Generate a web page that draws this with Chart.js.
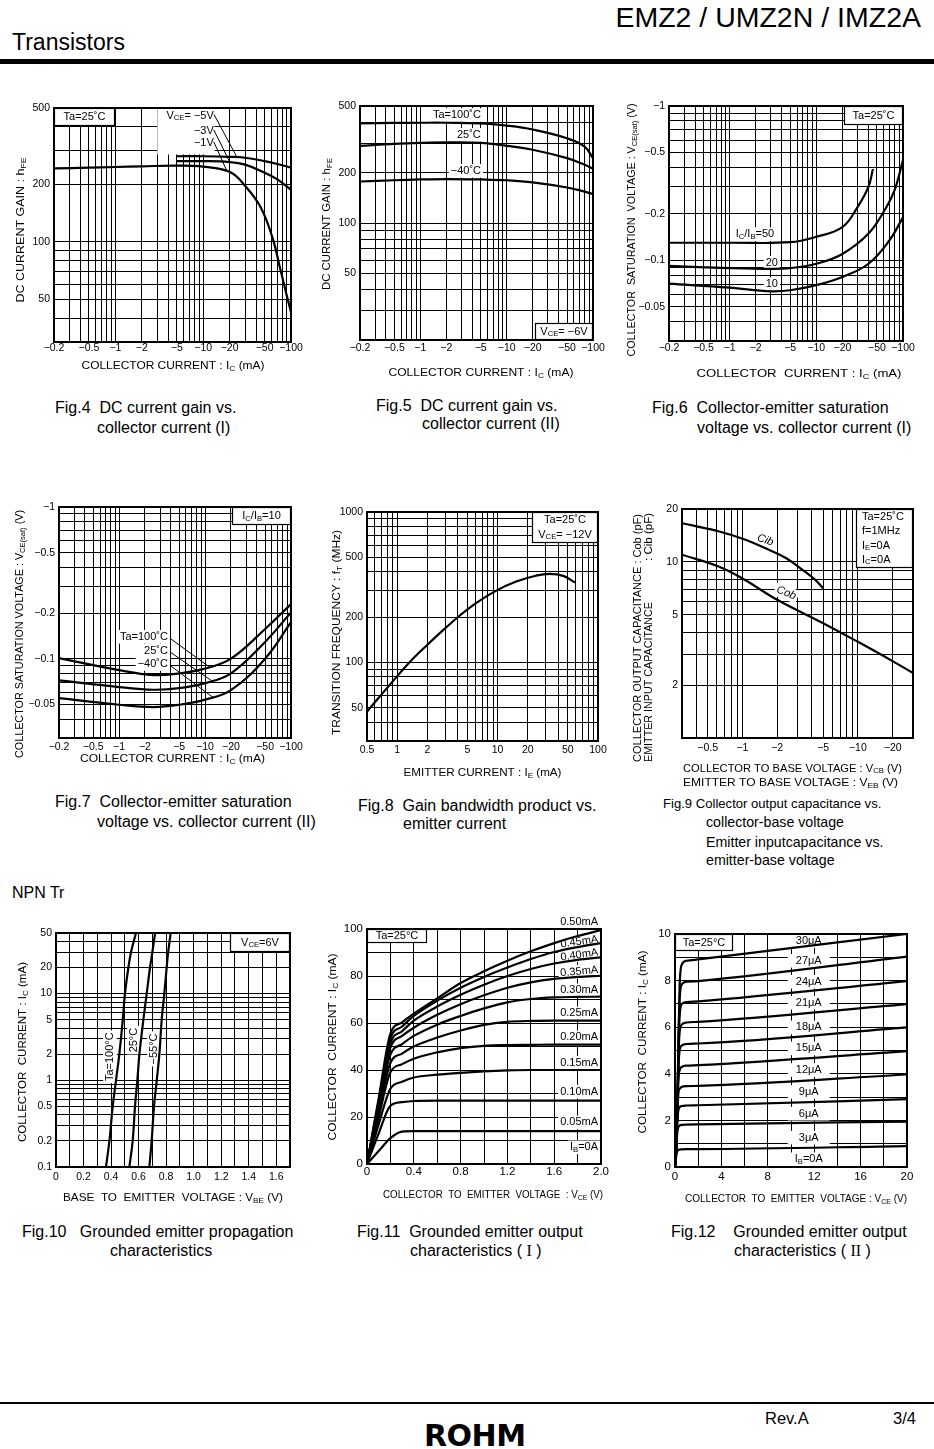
<!DOCTYPE html>
<html>
<head>
<meta charset="utf-8">
<title>EMZ2 / UMZ2N / IMZ2A</title>
<script src="https://cdn.jsdelivr.net/npm/chart.js@4.4.1/dist/chart.umd.min.js"></script>
<style>
  html, body { margin: 0; padding: 0; overflow: hidden; background: #fff; }
  #page { position: relative; width: 934px; height: 1449px; background: #fff; font-family: "Liberation Sans", Arial, Helvetica, sans-serif; color: #000; }
  .t { position: absolute; white-space: pre; line-height: 16px; }
  .cap { position: absolute; white-space: pre; font-size: 16px; line-height: 16px; }
  .c9 { font-size: 14.2px; }
  .rn { font-family: "Liberation Serif", "DejaVu Serif", serif; }
</style>
</head>
<body>
<div id="page">
  <div class="t" style="right:13px; top:2px; font-size:28.5px; line-height:30px;">EMZ2 / UMZ2N / IMZ2A</div>
  <div class="t" style="left:12px; top:30px; font-size:23px; line-height:24px;">Transistors</div>
  <div style="position:absolute; left:0; top:59px; width:934px; height:5px; background:#000;"></div>

  <div class="cap" style="left:55px; top:400px;">Fig.4  DC current gain vs.</div>
  <div class="cap" style="left:97px; top:420px;">collector current (I)</div>
  <div class="cap" style="left:376px; top:398px;">Fig.5  DC current gain vs.</div>
  <div class="cap" style="left:422px; top:416px;">collector current (II)</div>
  <div class="cap" style="left:652px; top:400px;">Fig.6  Collector-emitter saturation</div>
  <div class="cap" style="left:697px; top:420px;">voltage vs. collector current (I)</div>

  <div class="cap" style="left:55px; top:794px;">Fig.7  Collector-emitter saturation</div>
  <div class="cap" style="left:97px; top:814px;">voltage vs. collector current (II)</div>
  <div class="cap" style="left:358px; top:798px;">Fig.8  Gain bandwidth product vs.</div>
  <div class="cap" style="left:403px; top:816px;">emitter current</div>
  <div class="cap c9" style="left:663px; top:796px; font-size:13.1px;">Fig.9 Collector output capacitance vs.</div>
  <div class="cap c9" style="left:706px; top:814px;">collector-base voltage</div>
  <div class="cap c9" style="left:706px; top:834px;">Emitter inputcapacitance vs.</div>
  <div class="cap c9" style="left:706px; top:852px;">emitter-base voltage</div>

  <div class="cap" style="left:12px; top:885px;">NPN Tr</div>

  <div class="cap" style="left:22px; top:1224px;">Fig.10   Grounded emitter propagation</div>
  <div class="cap" style="left:110px; top:1243px;">characteristics</div>
  <div class="cap" style="left:357px; top:1224px;">Fig.11  Grounded emitter output</div>
  <div class="cap" style="left:410px; top:1243px;">characteristics ( <span class="rn">I</span> )</div>
  <div class="cap" style="left:671px; top:1224px;">Fig.12    Grounded emitter output</div>
  <div class="cap" style="left:734px; top:1243px;">characteristics ( <span class="rn">II</span> )</div>

  <div style="position:absolute; left:0; top:1402px; width:934px; height:2px; background:#000;"></div>
  <div class="t" style="left:765px; top:1410px; font-size:16.5px;">Rev.A</div>
  <div class="t" style="left:893px; top:1410px; font-size:16.5px;">3/4</div>
  <div class="t" style="left:424px; top:1420px; font-size:30px; line-height:32px; font-weight:bold; font-family:'DejaVu Sans', sans-serif; letter-spacing:-0.5px;">ROHM</div>
</div>

<script>
// ---- Fig.4 : DC current gain vs. collector current (I) ----
const fig4IcLow  = [0.2, 0.5, 1, 2, 5, 10, 20, 30, 45, 62, 75, 89, 100];
const fig4Hfe1V  = [242, 244, 246, 248, 250, 247, 232, 196, 152, 104, 73, 53, 43];
const fig4IcHigh = [5, 10, 20, 30, 50, 70, 100];
const fig4Hfe3V  = [264, 264, 261, 253, 230, 212, 187];
const fig4Hfe5V  = [280, 280, 278, 275, 264, 255, 244];

// ---- Fig.5 : DC current gain vs. collector current (II) ----
const fig5Ic      = [0.2, 0.5, 1, 2, 5, 10, 20, 50, 80, 100];
const fig5Hfe100  = [394, 396, 397, 397, 394, 382, 362, 321, 286, 244];
const fig5Hfe25   = [289, 297, 301, 303, 301, 289, 274, 244, 223, 211];
const fig5HfeM40  = [177, 180, 182, 183, 182, 180, 175, 163, 154, 149];

// ---- Fig.6 : VCE(sat) vs. Ic (I) ----
const fig6Ic50 = [0.2, 1, 5, 10, 20, 30, 40, 45];
const fig6V50  = [0.13, 0.13, 0.131, 0.142, 0.164, 0.222, 0.30, 0.39];
const fig6Ic20 = [0.2, 1, 3, 5, 10, 20, 40, 64, 80, 100];
const fig6V20  = [0.092, 0.089, 0.088, 0.089, 0.095, 0.11, 0.149, 0.22, 0.285, 0.446];
const fig6Ic10 = [0.2, 1, 3, 5, 10, 20, 40, 70, 100];
const fig6V10  = [0.0706, 0.0665, 0.063, 0.064, 0.069, 0.078, 0.095, 0.135, 0.19];

// ---- Fig.7 : VCE(sat) vs. Ic (II) ----
const fig7Ic    = [0.2, 1, 2.5, 5, 10, 20, 50, 100];
const fig7V100  = [0.101, 0.084, 0.078, 0.080, 0.086, 0.100, 0.157, 0.229];
const fig7V25   = [0.072, 0.065, 0.0624, 0.064, 0.069, 0.080, 0.129, 0.202];
const fig7VM40  = [0.055, 0.0497, 0.048, 0.0497, 0.0537, 0.062, 0.100, 0.174];

// ---- Fig.8 : fT vs. IE ----
const fig8Ie = [0.5, 1, 1.44, 2, 2.9, 4.2, 6.1, 9.7, 15.3, 24, 33, 45, 59];
const fig8Ft = [47, 81, 106, 131, 165, 205, 248, 300, 345, 377, 388, 376, 340];

// ---- Fig.9 : Cob / Cib ----
const fig9VCib = [0.3, 0.63, 1.02, 1.71, 2.4, 3.34, 4.2, 5.0];
const fig9Cib  = [16.6, 14.9, 13.5, 11.7, 10.5, 9.0, 8.0, 7.1];
const fig9VCob = [0.3, 0.63, 1.02, 2.0, 5.0, 9.9, 19.1, 30];
const fig9Cob  = [11.0, 9.4, 8.0, 6.1, 4.49, 3.53, 2.78, 2.34];

// ---- Fig.10 : Ic vs. VBE ----
const fig10Ic    = [0.1, 0.2, 0.5, 1, 2, 5, 10, 20, 30, 50];
const fig10V100  = [0.363, 0.388, 0.412, 0.436, 0.46, 0.485, 0.501, 0.526, 0.545, 0.581];
const fig10V25   = [0.533, 0.557, 0.574, 0.591, 0.606, 0.635, 0.659, 0.683, 0.70, 0.72];
const fig10VM55  = [0.678, 0.695, 0.712, 0.732, 0.751, 0.768, 0.787, 0.804, 0.815, 0.833];

// ---- Fig.11 : Ic vs. VCE (I) ----
const fig11Vce = [0, 0.1, 0.2, 0.3, 0.4, 0.6, 0.8, 1.0, 1.2, 1.4, 1.6, 1.8, 2.0];
const fig11Ib  = ['0.05mA', '0.10mA', '0.15mA', '0.20mA', '0.25mA', '0.30mA', '0.35mA', '0.40mA', '0.45mA', '0.50mA'];
const fig11Ic = [
  [0, 5.5, 11, 13.8, 14, 14, 14, 14, 14, 14, 14, 14, 14],
  [0, 13, 24.8, 26.3, 26.8, 27, 27, 27, 27, 27, 27, 27, 27],
  [0, 17, 32, 35, 36.8, 38, 38.8, 39.4, 39.8, 40, 40, 40, 40],
  [0, 20, 39, 42.5, 44.8, 47.5, 49.3, 50.3, 50.6, 50.7, 50.8, 50.8, 50.8],
  [0, 22, 43, 47, 50, 53.8, 56.8, 59.2, 60.5, 60.9, 61, 61, 61],
  [0, 24, 46.5, 51, 54.5, 59.3, 63, 66.2, 68.8, 70.2, 70.9, 71.1, 71.2],
  [0, 25, 49.5, 54.5, 58, 63.5, 68, 71.8, 75, 77.3, 78.8, 79.6, 80.1],
  [0, 26, 51.5, 56.5, 61, 67, 72, 76.3, 80, 83, 85.3, 86.9, 87.9],
  [0, 27, 53.5, 58.5, 63, 69.5, 75, 79.6, 83.6, 87.2, 90.2, 92.3, 94],
  [0, 28, 55.5, 60.3, 64, 70.5, 77, 82, 86.5, 90.5, 94, 97, 99.5]
];

// ---- Fig.12 : Ic vs. VCE (II) ----
const fig12Vce = [0, 0.1, 0.2, 0.3, 0.4, 0.6, 1.0, 2.0, 20];
const fig12Ib  = ['3μA', '6μA', '9μA', '12μA', '15μA', '18μA', '21μA', '24μA', '27μA', '30μA'];
const fig12Ic = [
  [0, 0.45, 0.68, 0.73, 0.75, 0.76, 0.77, 0.77, 0.9],
  [0, 0.7, 1.5, 1.72, 1.78, 1.81, 1.82, 1.83, 1.95],
  [0, 0.8, 2.0, 2.45, 2.57, 2.62, 2.64, 2.65, 2.91],
  [0, 0.8, 2.2, 3.2, 3.35, 3.44, 3.47, 3.48, 3.97],
  [0, 0.8, 2.3, 3.8, 4.15, 4.3, 4.35, 4.37, 4.97],
  [0, 0.8, 2.4, 4.3, 5.0, 5.22, 5.28, 5.30, 5.99],
  [0, 0.8, 2.5, 4.7, 5.8, 6.12, 6.2, 6.23, 6.99],
  [0, 0.8, 2.5, 5.0, 6.5, 7.0, 7.08, 7.11, 7.98],
  [0, 0.8, 2.5, 5.3, 7.2, 7.85, 7.95, 7.98, 9.03],
  [0, 0.8, 2.5, 5.5, 7.8, 8.7, 8.85, 8.91, 10.0]
];

// tick labels
const curTicks   = ['−0.2', '−0.5', '−1', '−2', '−5', '−10', '−20', '−50', '−100'];
const hfeTicks   = ['50', '100', '200', '500'];
const vsatTicks  = ['−0.05', '−0.1', '−0.2', '−0.5', '−1'];
const fig8XTicks = ['0.5', '1', '2', '5', '10', '20', '50', '100'];
const fig8YTicks = ['50', '100', '200', '500', '1000'];
const fig9XTicks = ['−0.5', '−1', '−2', '−5', '−10', '−20'];
const fig9YTicks = ['2', '5', '10', '20'];
const fig10XTicks = ['0', '0.2', '0.4', '0.6', '0.8', '1.0', '1.2', '1.4', '1.6'];
const fig10YTicks = ['0.1', '0.2', '0.5', '1', '2', '5', '10', '20', '50'];
const fig11XTicks = ['0', '0.4', '0.8', '1.2', '1.6', '2.0'];
const fig11YTicks = ['0', '20', '40', '60', '80', '100'];
const fig12XTicks = ['0', '4', '8', '12', '16', '20'];
const fig12YTicks = ['0', '2', '4', '6', '8', '10'];

const FONT = '"Liberation Sans", Arial, Helvetica, sans-serif';
const ML = 52, MT = 22, MR = 22, MB = 56;

function logGrid(min, max) {
    const out = [];
    for (let e = Math.floor(Math.log10(min)); e <= Math.ceil(Math.log10(max)); e++) {
        for (let m = 1; m < 10; m++) {
            const v = +(m * Math.pow(10, e)).toPrecision(6);
            if (v >= min * 0.999 && v <= max * 1.001) out.push(v);
        }
    }
    return out;
}

function linGrid(min, max, step) {
    const out = [];
    for (let v = min; v <= max + 1e-9; v += step) out.push(+v.toFixed(6));
    return out;
}

// "I_{C}/I_{B}" -> parts with subscripts
function parseRich(s) {
    const out = [], re = /_\{([^}]*)\}/g;
    let last = 0, m;
    while ((m = re.exec(s))) {
        if (m.index > last) out.push({ t: s.slice(last, m.index) });
        out.push({ t: m[1], sub: true });
        last = re.lastIndex;
    }
    if (last < s.length) out.push({ t: s.slice(last) });
    return out;
}

function fontStr(size, italic) {
    return (italic ? 'italic ' : '') + size + 'px ' + FONT;
}

function drawRich(ctx, s, x, y, o) {
    const size = o.size || 11, parts = parseRich(s);
    let nat = 0;
    parts.forEach(p => { ctx.font = fontStr(p.sub ? size * 0.7 : size, o.italic); nat += ctx.measureText(p.t).width; });
    const sx = o.len ? o.len / nat : 1, w = nat * sx;
    const start = o.align === 'left' ? 0 : o.align === 'right' ? -w : -w / 2;
    ctx.save();
    ctx.translate(x, y);
    if (o.rot) ctx.rotate(o.rot * Math.PI / 180);
    if (o.bg) {
        const bw = o.bw || w + 4;
        ctx.fillStyle = '#fff';
        ctx.fillRect(start + w / 2 - bw / 2, -size * 0.62, bw, size * 1.24);
    }
    ctx.scale(sx, 1);
    ctx.fillStyle = '#000';
    ctx.textBaseline = 'middle';
    ctx.textAlign = 'left';
    let cx = start / sx;
    parts.forEach(p => {
        ctx.font = fontStr(p.sub ? size * 0.7 : size, o.italic);
        ctx.fillText(p.t, cx, p.sub ? size * 0.22 : 0);
        cx += ctx.measureText(p.t).width;
    });
    ctx.restore();
}

function drawBox(ctx, a, b) {
    const x = b.corner[1] === 'l' ? a.left : a.right - b.w;
    const y = b.corner[0] === 't' ? a.top : a.bottom - b.h;
    ctx.fillStyle = '#fff';
    ctx.fillRect(x, y, b.w, b.h);
    ctx.strokeStyle = '#000';
    ctx.lineWidth = 1.2;
    ctx.strokeRect(x + 0.5, y + 0.5, b.w - 1, b.h - 1);
    const lh = (b.h - 2) / b.lines.length;
    b.lines.forEach((t, i) => {
        const left = b.tx != null;
        drawRich(ctx, t, left ? x + b.tx : x + b.w / 2, y + 1 + lh * (i + 0.5), { size: 11, align: left ? 'left' : 'center' });
    });
}

// one inline plugin per chart: masks, labels, leaders, boxes, frame, axis titles
function sheetPlugin(spec, ox, oy) {
    return {
        id: 'sheet',
        beforeDatasetsDraw(chart) {
            const ctx = chart.ctx, X = chart.scales.x, Y = chart.scales.y;
            const px = v => X.getPixelForValue(v), py = v => Y.getPixelForValue(v);
            ctx.save();
            ctx.fillStyle = '#fff';
            (spec.masks || []).forEach(m => {
                const x0 = px(m.x0), x1 = px(m.x1), y0 = py(m.y1), y1 = py(m.y0);
                ctx.fillRect(x0, y0, x1 - x0, y1 - y0);
            });
            ctx.strokeStyle = '#000';
            ctx.lineWidth = 1;
            (spec.leaders || []).forEach(l => {
                ctx.beginPath();
                ctx.moveTo(px(l[0]), py(l[1]));
                ctx.lineTo(px(l[2]), py(l[3]));
                ctx.stroke();
            });
            (spec.labels || []).forEach(n => drawRich(ctx, n.t, px(n.x), py(n.y), n));
            ctx.restore();
        },
        afterDatasetsDraw(chart) {
            const ctx = chart.ctx, a = chart.chartArea;
            ctx.save();
            (spec.boxes || []).forEach(b => drawBox(ctx, a, b));
            ctx.strokeStyle = '#000';
            ctx.lineWidth = 2;
            ctx.strokeRect(a.left, a.top, a.right - a.left, a.bottom - a.top);
            (spec.titles || []).forEach(t => drawRich(ctx, t.t, t.x - ox, t.y - oy, t));
            ctx.restore();
        }
    };
}

function axis(kind, min, max, grid, labels, pad, fs, fit) {
    const vals = labels.map(s => parseFloat(s.replace('−', '')));
    return {
        type: kind, min, max,
        afterBuildTicks: s => { s.ticks = grid.map(v => ({ value: v })); },
        afterFit: fit,
        ticks: {
            autoSkip: false, maxRotation: 0, minRotation: 0, padding: pad,
            color: '#000', font: { family: FONT, size: fs },
            callback: v => {
                const i = vals.findIndex(t => Math.abs(t - v) < 1e-6 * Math.max(1, Math.abs(t)));
                return i < 0 ? '' : labels[i];
            }
        },
        grid: { color: '#000', lineWidth: 1, drawTicks: false },
        border: { display: false }
    };
}

function makeChart(spec) {
    const p = spec.plot;
    const ox = p.l - ML, oy = p.t - MT;
    const w = p.r - p.l + ML + MR, h = p.b - p.t + MT + MB;
    const cv = document.createElement('canvas');
    cv.width = w;
    cv.height = h;
    cv.style.cssText = `position:absolute;left:${ox}px;top:${oy}px;width:${w}px;height:${h}px`;
    document.getElementById('page').appendChild(cv);

    const sx = spec.x, sy = spec.y, fs = spec.fs || 10.5;
    return new Chart(cv, {
        type: 'line',
        data: {
            datasets: spec.series.map(s => ({
                data: s.xs.map((x, i) => ({ x, y: s.ys[i] })),
                borderColor: '#000',
                borderWidth: 2.2,
                pointRadius: 0,
                fill: false,
                tension: 0.4,
                cubicInterpolationMode: spec.monotone ? 'monotone' : 'default'
            }))
        },
        options: {
            responsive: false,
            animation: false,
            events: [],
            layout: { padding: { left: 0, top: MT, right: MR, bottom: 0 } },
            scales: {
                x: axis(sx.type, sx.min, sx.max, sx.grid, sx.ticks, sx.pad, fs, s => { s.height = MB; }),
                y: axis(sy.type, sy.min, sy.max, sy.grid, sy.ticks, 4, fs, s => { s.width = ML; })
            },
            plugins: { legend: { display: false }, tooltip: { enabled: false } }
        },
        plugins: [sheetPlugin(spec, ox, oy)]
    });
}

const LOG = 'logarithmic', LIN = 'linear';

// Fig.4
makeChart({
    plot: { l: 54, t: 108, r: 291, b: 342 },
    x: { type: LOG, min: 0.2, max: 100, grid: logGrid(0.2, 100), ticks: curTicks, pad: 0 },
    y: { type: LOG, min: 30, max: 500, grid: logGrid(30, 500), ticks: hfeTicks },
    series: [
        { xs: fig4IcLow, ys: fig4Hfe1V },
        { xs: fig4IcHigh, ys: fig4Hfe3V },
        { xs: fig4IcHigh, ys: fig4Hfe5V }
    ],
    masks: [{ x0: 3, x1: 13.5, y0: 286, y1: 500 }],
    labels: [
        { t: 'V_{CE}= −5V', x: 13.2, y: 456, align: 'right' },
        { t: '−3V', x: 13.2, y: 381, align: 'right' },
        { t: '−1V', x: 13.2, y: 329, align: 'right' }
    ],
    leaders: [[13.3, 462, 24, 279], [13.2, 385, 20, 262], [13.2, 333, 18.5, 236]],
    boxes: [{ corner: 'tl', w: 61, h: 18, lines: ['Ta=25˚C'] }],
    titles: [
        { t: 'COLLECTOR CURRENT : I_{C} (mA)', x: 173, y: 366, len: 183 },
        { t: 'DC CURRENT GAIN : h_{FE}', x: 21, y: 230, rot: -90, len: 145 }
    ]
});

// Fig.5
makeChart({
    plot: { l: 360, t: 106, r: 593, b: 340 },
    x: { type: LOG, min: 0.2, max: 100, grid: logGrid(0.2, 100), ticks: curTicks, pad: 2 },
    y: { type: LOG, min: 20, max: 500, grid: logGrid(20, 500), ticks: hfeTicks },
    series: [
        { xs: fig5Ic, ys: fig5Hfe100 },
        { xs: fig5Ic, ys: fig5Hfe25 },
        { xs: fig5Ic, ys: fig5HfeM40 }
    ],
    labels: [
        { t: 'Ta=100˚C', x: 2.65, y: 442, bg: true },
        { t: '25˚C', x: 3.65, y: 336, bg: true },
        { t: '−40˚C', x: 3.37, y: 205, bg: true }
    ],
    boxes: [{ corner: 'br', w: 58, h: 17, lines: ['V_{CE}= −6V'] }],
    titles: [
        { t: 'COLLECTOR CURRENT : I_{C} (mA)', x: 481, y: 373, len: 185 },
        { t: 'DC CURRENT GAIN : h_{FE}', x: 327, y: 224, rot: -90, len: 132 }
    ]
});

// Fig.6
makeChart({
    plot: { l: 669, t: 106, r: 903, b: 341 },
    x: { type: LOG, min: 0.2, max: 100, grid: logGrid(0.2, 100), ticks: curTicks, pad: 1 },
    y: { type: LOG, min: 0.03, max: 1, grid: logGrid(0.03, 1), ticks: vsatTicks },
    series: [
        { xs: fig6Ic50, ys: fig6V50 },
        { xs: fig6Ic20, ys: fig6V20 },
        { xs: fig6Ic10, ys: fig6V10 }
    ],
    labels: [
        { t: 'I_{C}/I_{B}=50', x: 1.96, y: 0.1476, bg: true },
        { t: '20', x: 3.07, y: 0.0964, bg: true },
        { t: '10', x: 3.07, y: 0.0699, bg: true }
    ],
    boxes: [{ corner: 'tr', w: 59, h: 19, lines: ['Ta=25˚C'] }],
    titles: [
        { t: 'COLLECTOR  CURRENT : I_{C} (mA)', x: 799, y: 374, len: 205 },
        { t: 'COLLECTOR  SATURATION  VOLTAGE : V_{CE(sat)} (V)', x: 632, y: 230, rot: -90, len: 253 }
    ]
});

// Fig.7
makeChart({
    plot: { l: 59, t: 507, r: 291, b: 738 },
    x: { type: LOG, min: 0.2, max: 100, grid: logGrid(0.2, 100), ticks: curTicks, pad: 2.5 },
    y: { type: LOG, min: 0.03, max: 1, grid: logGrid(0.03, 1), ticks: vsatTicks },
    series: [
        { xs: fig7Ic, ys: fig7V100 },
        { xs: fig7Ic, ys: fig7V25 },
        { xs: fig7Ic, ys: fig7VM40 }
    ],
    labels: [
        { t: 'Ta=100˚C', x: 3.7, y: 0.1395, align: 'right', bg: true },
        { t: '25˚C', x: 3.7, y: 0.113, align: 'right', bg: true },
        { t: '−40˚C', x: 3.7, y: 0.0923, align: 'right', bg: true }
    ],
    leaders: [[3.8, 0.138, 11.1, 0.0885], [3.8, 0.112, 12.4, 0.0705], [3.8, 0.0915, 12.4, 0.0555]],
    boxes: [{ corner: 'tr', w: 59, h: 18, lines: ['I_{C}/I_{B}=10'] }],
    titles: [
        { t: 'COLLECTOR CURRENT : I_{C} (mA)', x: 172.5, y: 759, len: 185 },
        { t: 'COLLECTOR SATURATION VOLTAGE : V_{CE(sat)} (V)', x: 20, y: 634, rot: -90, len: 248 }
    ]
});

// Fig.8
makeChart({
    plot: { l: 367, t: 512, r: 598, b: 741 },
    x: { type: LOG, min: 0.5, max: 100, grid: logGrid(0.5, 100), ticks: fig8XTicks, pad: 3 },
    y: { type: LOG, min: 30, max: 1000, grid: logGrid(30, 1000), ticks: fig8YTicks },
    series: [{ xs: fig8Ie, ys: fig8Ft }],
    boxes: [{ corner: 'tr', w: 66, h: 31, lines: ['Ta=25˚C', 'V_{CE}= −12V'] }],
    titles: [
        { t: 'EMITTER CURRENT : I_{E} (mA)', x: 482.5, y: 773, len: 158 },
        { t: 'TRANSITION FREQUENCY : f_{T} (MHz)', x: 337, y: 632.5, rot: -90, len: 205 }
    ]
});

// Fig.9
makeChart({
    plot: { l: 682, t: 509, r: 913, b: 738 },
    x: { type: LOG, min: 0.3, max: 30, grid: logGrid(0.3, 30), ticks: fig9XTicks, pad: 4 },
    y: { type: LOG, min: 1, max: 20, grid: logGrid(1, 20), ticks: fig9YTicks },
    series: [
        { xs: fig9VCib, ys: fig9Cib },
        { xs: fig9VCob, ys: fig9Cob }
    ],
    labels: [
        { t: 'Cib', x: 1.58, y: 13.3, rot: 20, italic: true },
        { t: 'Cob', x: 2.4, y: 6.67, rot: 22, italic: true, bg: true }
    ],
    boxes: [{ corner: 'tr', w: 57, h: 59, tx: 6, lines: ['Ta=25˚C', 'f=1MHz', 'I_{E}=0A', 'I_{C}=0A'] }],
    titles: [
        { t: 'COLLECTOR TO BASE VOLTAGE : V_{CB} (V)', x: 683, y: 768.5, align: 'left', len: 219 },
        { t: 'EMITTER TO BASE VOLTAGE : V_{EB} (V)', x: 683, y: 783, align: 'left', len: 215 },
        { t: 'COLLECTOR OUTPUT CAPACITANCE : Cob (pF)', x: 638, y: 762, rot: -90, align: 'left', len: 248 },
        { t: 'EMITTER INPUT CAPACITANCE', x: 648.5, y: 762, rot: -90, align: 'left', len: 160 },
        { t: ': Cib (pF)', x: 648.5, y: 513, rot: -90, align: 'right', len: 48 }
    ]
});

// Fig.10
makeChart({
    plot: { l: 56, t: 933, r: 290, b: 1167 },
    x: { type: LIN, min: 0, max: 1.7, grid: linGrid(0, 1.7, 0.1), ticks: fig10XTicks, pad: 3.5 },
    y: { type: LOG, min: 0.1, max: 50, grid: logGrid(0.1, 50), ticks: fig10YTicks },
    series: [
        { xs: fig10V100, ys: fig10Ic },
        { xs: fig10V25, ys: fig10Ic },
        { xs: fig10VM55, ys: fig10Ic }
    ],
    labels: [
        { t: 'Ta=100°C', x: 0.392, y: 1.87, rot: -90, bg: true },
        { t: '25°C', x: 0.567, y: 2.91, rot: -90, bg: true },
        { t: '−55°C', x: 0.712, y: 2.3, rot: -90, bg: true }
    ],
    boxes: [{ corner: 'tr', w: 60, h: 19, lines: ['V_{CE}=6V'] }],
    titles: [
        { t: 'BASE  TO  EMITTER  VOLTAGE : V_{BE} (V)', x: 173, y: 1198, len: 220 },
        { t: 'COLLECTOR  CURRENT : I_{C} (mA)', x: 23, y: 1052, rot: -90, len: 180 }
    ]
});

// Fig.11
const fig11LabelY = [17.7, 30.8, 43.1, 53.9, 64.1, 73.9, 82.6, 90.1, 95.7, 102.9];
const fig11LabelRot = [0, 0, 0, 0, 0, 0, -5, -8, -8, 0];
makeChart({
    plot: { l: 367, t: 929, r: 601, b: 1164 },
    fs: 11.5, monotone: true,
    x: { type: LIN, min: 0, max: 2, grid: linGrid(0, 2, 0.2), ticks: fig11XTicks, pad: 1 },
    y: { type: LIN, min: 0, max: 100, grid: linGrid(0, 100, 10), ticks: fig11YTicks },
    series: fig11Ic.map(ys => ({ xs: fig11Vce, ys })),
    labels: fig11Ib.map((t, i) => ({ t, x: 1.975, y: fig11LabelY[i], rot: fig11LabelRot[i], align: 'right', bg: true }))
        .concat([{ t: 'I_{B}=0A', x: 1.975, y: 7.1, align: 'right', bg: true }]),
    boxes: [{ corner: 'tl', w: 60, h: 14, lines: ['Ta=25°C'] }],
    titles: [
        { t: 'COLLECTOR  TO  EMITTER  VOLTAGE  : V_{CE} (V)', x: 493, y: 1195, len: 220 },
        { t: 'COLLECTOR  CURRENT : I_{C} (mA)', x: 333, y: 1047, rot: -90, len: 187 }
    ]
});

// Fig.12
const fig12LabelY = [1.26, 2.29, 3.22, 4.16, 5.09, 5.99, 7.05, 7.95, 8.85, 9.70];
makeChart({
    plot: { l: 675, t: 934, r: 907, b: 1167 },
    fs: 11.5, monotone: true,
    x: { type: LIN, min: 0, max: 20, grid: linGrid(0, 20, 2), ticks: fig12XTicks, pad: 3 },
    y: { type: LIN, min: 0, max: 10, grid: linGrid(0, 10, 1), ticks: fig12YTicks },
    series: fig12Ic.map(ys => ({ xs: fig12Vce, ys })),
    labels: fig12Ib.map((t, i) => ({ t, x: 11.53, y: fig12LabelY[i], bg: true, bw: 42 }))
        .concat([{ t: 'I_{B}=0A', x: 11.53, y: 0.33, bg: true, bw: 42 }]),
    boxes: [{ corner: 'tl', w: 58, h: 17, lines: ['Ta=25°C'] }],
    titles: [
        { t: 'COLLECTOR  TO  EMITTER  VOLTAGE : V_{CE} (V)', x: 796, y: 1199, len: 222 },
        { t: 'COLLECTOR  CURRENT : I_{C} (mA)', x: 643, y: 1042, rot: -90, len: 183 }
    ]
});
</script>
</body>
</html>
